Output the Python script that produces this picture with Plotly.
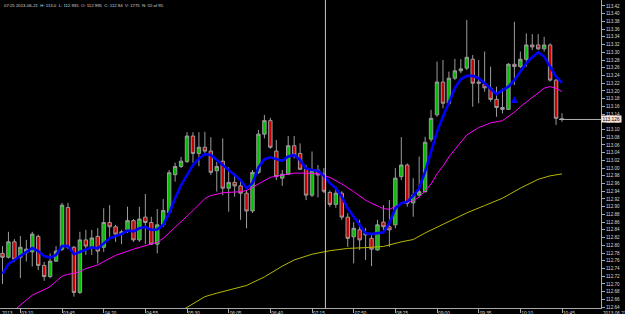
import plotly.graph_objects as go
import pandas as pd

# ---- candle data (EURJPY-like 5 min bars, 2013-06-21 02:55 .. 10:45) ----
opens = [112.779, 112.769, 112.809, 112.769, 112.781, 112.783, 112.823, 112.748, 112.719, 112.759,
         112.790, 112.898, 112.795, 112.678, 112.814, 112.795, 112.823, 112.795, 112.859, 112.848,
         112.829, 112.840, 112.864, 112.814, 112.873, 112.859, 112.803, 112.853, 112.885, 112.983,
         113.004, 113.017, 113.083, 113.038, 113.054, 113.044, 112.993, 113.018, 112.948, 112.963,
         112.954, 112.935, 112.889, 112.989, 113.088, 113.123, 113.044, 112.974, 112.984, 113.058,
         113.038, 112.997, 112.930, 112.995, 112.985, 112.937, 112.906, 112.935, 112.873, 112.822,
         112.840, 112.827, 112.818, 112.788, 112.860, 112.848, 112.853, 112.978, 113.008, 112.910,
         112.930, 112.939, 113.075, 113.138, 113.223, 113.168, 113.233, 113.252, 113.259, 113.282,
         113.223, 113.218, 113.207, 113.178, 113.157, 113.152, 113.269, 113.263, 113.282, 113.319,
         113.319, 113.309, 113.319, 113.228, 113.128]
highs = [112.798, 112.835, 112.816, 112.824, 112.814, 112.835, 112.828, 112.757, 112.779, 112.798,
         112.910, 112.910, 112.798, 112.835, 112.840, 112.840, 112.845, 112.896, 112.904, 112.853,
         112.840, 112.900, 112.868, 112.900, 112.933, 112.874, 112.894, 112.920, 112.995, 113.014,
         113.029, 113.093, 113.093, 113.093, 113.094, 113.080, 113.016, 113.077, 113.002, 112.987,
         112.969, 112.943, 112.995, 113.099, 113.138, 113.130, 113.073, 112.995, 113.083, 113.083,
         113.064, 113.008, 113.043, 113.008, 113.000, 112.942, 112.952, 112.940, 112.883, 112.860,
         112.866, 112.845, 112.831, 112.866, 112.904, 112.917, 113.000, 113.080, 113.012, 112.974,
         113.030, 113.081, 113.151, 113.276, 113.280, 113.250, 113.283, 113.282, 113.384, 113.293,
         113.280, 113.302, 113.263, 113.211, 113.207, 113.272, 113.379, 113.302, 113.349, 113.347,
         113.347, 113.340, 113.323, 113.230, 113.142]
lows = [112.700, 112.766, 112.757, 112.715, 112.758, 112.745, 112.736, 112.708, 112.715, 112.757,
        112.785, 112.790, 112.667, 112.674, 112.775, 112.775, 112.753, 112.783, 112.822, 112.809,
        112.803, 112.832, 112.809, 112.809, 112.803, 112.801, 112.779, 112.847, 112.881, 112.965,
        113.000, 113.013, 113.014, 113.005, 113.034, 112.982, 112.939, 112.930, 112.887, 112.926,
        112.866, 112.844, 112.884, 112.985, 113.077, 113.050, 112.969, 112.954, 112.982, 113.025,
        112.995, 112.917, 112.925, 112.924, 112.935, 112.900, 112.897, 112.866, 112.796, 112.753,
        112.788, 112.762, 112.746, 112.786, 112.831, 112.796, 112.844, 112.969, 112.900, 112.874,
        112.926, 112.936, 113.068, 113.133, 113.155, 113.163, 113.228, 113.246, 113.254, 113.159,
        113.168, 113.198, 113.172, 113.133, 113.142, 113.151, 113.215, 113.259, 113.263, 113.306,
        113.306, 113.302, 113.224, 113.112, 113.120]
closes = [112.769, 112.809, 112.764, 112.795, 112.790, 112.829, 112.748, 112.719, 112.759, 112.785,
          112.904, 112.795, 112.678, 112.814, 112.798, 112.819, 112.785, 112.859, 112.848, 112.829,
          112.835, 112.864, 112.814, 112.868, 112.859, 112.803, 112.853, 112.890, 112.988, 113.004,
          113.018, 113.083, 113.038, 113.054, 113.044, 112.989, 113.004, 112.948, 112.963, 112.954,
          112.935, 112.889, 112.989, 113.088, 113.123, 113.054, 112.978, 112.984, 113.058, 113.034,
          112.997, 112.930, 112.993, 112.982, 112.940, 112.906, 112.935, 112.873, 112.818, 112.844,
          112.814, 112.831, 112.790, 112.853, 112.848, 112.840, 112.974, 113.008, 112.909, 112.930,
          112.939, 113.067, 113.129, 113.223, 113.168, 113.233, 113.252, 113.257, 113.287, 113.220,
          113.220, 113.208, 113.178, 113.157, 113.152, 113.269, 113.263, 113.282, 113.319, 113.314,
          113.309, 113.319, 113.228, 113.129, 113.126]

# fast moving average (blue), one value per bar
ma_fast = [112.726, 112.752, 112.762, 112.772, 112.782, 112.793, 112.785, 112.772, 112.768, 112.775,
           112.798, 112.798, 112.777, 112.783, 112.788, 112.795, 112.792, 112.805, 112.818, 112.824,
           112.829, 112.838, 112.836, 112.844, 112.848, 112.840, 112.841, 112.853, 112.883, 112.922,
           112.956, 112.982, 113.008, 113.025, 113.036, 113.034, 113.021, 113.008, 112.993, 112.982,
           112.969, 112.948, 112.961, 113.002, 113.023, 113.028, 113.023, 113.019, 113.030, 113.034,
           113.021, 112.999, 112.995, 112.993, 112.980, 112.961, 112.948, 112.926, 112.896, 112.874,
           112.855, 112.831, 112.829, 112.831, 112.834, 112.857, 112.896, 112.909, 112.913, 112.928,
           112.948, 112.991, 113.042, 113.094, 113.133, 113.168, 113.207, 113.230, 113.239, 113.239,
           113.233, 113.220, 113.207, 113.192, 113.202, 113.211, 113.228, 113.250, 113.272, 113.287,
           113.300, 113.289, 113.263, 113.237, 113.221]

# medium moving average (magenta), read at these bars
ma_mid_bars = [2, 4, 5, 7, 8, 10, 11, 12, 13, 14, 16, 17, 19, 22, 24, 26, 27, 28, 30, 32,
               34, 35, 37, 40, 41, 42, 43, 45, 47, 49, 51, 53, 55, 57, 59, 61, 62, 64, 65, 67,
               69, 70, 71, 72, 73, 74, 75, 76, 77, 78, 80, 82, 84, 86, 87, 88, 89, 90, 91, 92, 93, 94]
ma_mid = [112.632, 112.658, 112.671, 112.685, 112.693, 112.720, 112.725, 112.727, 112.732, 112.740,
          112.749, 112.758, 112.774, 112.790, 112.799, 112.808, 112.818, 112.832, 112.860, 112.890,
          112.921, 112.929, 112.936, 112.939, 112.942, 112.951, 112.959, 112.976, 112.982, 112.987,
          112.987, 112.985, 112.976, 112.959, 112.939, 112.917, 112.909, 112.895, 112.893, 112.909,
          112.915, 112.925, 112.941, 112.959, 112.985, 113.005, 113.029, 113.049, 113.068, 113.086,
          113.105, 113.117, 113.123, 113.145, 113.159, 113.171, 113.183, 113.195, 113.207, 113.211,
          113.207, 113.198]

# slow moving average (olive), read at these bars
ma_slow_bars = [30, 31, 33, 34, 36, 38, 41, 44, 47, 49, 52, 55, 58, 61, 64, 67, 69, 71, 73, 75,
                78, 81, 84, 87, 90, 92, 94]
ma_slow = [112.630, 112.639, 112.658, 112.667, 112.676, 112.684, 112.696, 112.718, 112.746, 112.762,
           112.777, 112.786, 112.792, 112.794, 112.797, 112.809, 112.815, 112.832, 112.847, 112.863,
           112.884, 112.903, 112.922, 112.948, 112.971, 112.980, 112.985]

arrow_bar = [86]
arrow_price = [113.187]

time_labels = ["03:10", "03:45", "04:20", "04:55", "05:30", "06:05", "06:40",
               "07:15", "07:50", "08:25", "09:00", "09:35", "10:10", "10:45"]
cursor_time = "07:25"
header = "07:25 2013-06-21  H: 113.0  L: 112.935  O: 112.995  C: 112.94  V: 1775  N: 55 of 95"

# ---- derived ----
times = pd.date_range("2013-06-21 02:55", periods=len(opens), freq="5min")
hhmm = list(times.strftime("%H:%M"))
bars = list(range(len(opens)))
tick_idx = [hhmm.index(t) for t in time_labels]
cursor_idx = hhmm.index(cursor_time)

x_range = [-0.42, 100.55]
y_range = [112.6376, 113.4355]

TXT = "#d8d8d8"
AX = "#a8a8a8"
FONT = "Liberation Sans"

fig = go.Figure()
fig.add_trace(go.Candlestick(
    x=bars, open=opens, high=highs, low=lows, close=closes,
    increasing=dict(fillcolor="#00c000", line=dict(color="#9c9c9c", width=1)),
    decreasing=dict(fillcolor="#c80000", line=dict(color="#9c9c9c", width=1)),
    whiskerwidth=0, showlegend=False, hoverinfo="skip"))
fig.add_trace(go.Scatter(x=ma_slow_bars, y=ma_slow, mode="lines",
                         line=dict(color="#b8b800", width=1), hoverinfo="skip"))
fig.add_trace(go.Scatter(x=ma_mid_bars, y=ma_mid, mode="lines",
                         line=dict(color="#ff00ff", width=1), hoverinfo="skip"))
fig.add_trace(go.Scatter(x=bars, y=ma_fast, mode="lines",
                         line=dict(color="#0000ff", width=2.6), hoverinfo="skip"))
fig.add_trace(go.Scatter(x=arrow_bar, y=arrow_price, mode="markers",
                         marker=dict(symbol="arrow-up", size=7, color="#0000ff",
                                     line=dict(width=0)), hoverinfo="skip"))

# crosshair and last price line
fig.add_shape(type="line", xref="x", yref="paper", x0=cursor_idx + 0.25, x1=cursor_idx + 0.25,
              y0=0, y1=1, line=dict(color="#c8c8c8", width=1))
fig.add_shape(type="line", xref="x", yref="y", x0=bars[-1] - 0.5, x1=x_range[1],
              y0=closes[-1], y1=closes[-1], line=dict(color="#b0b0b0", width=1))

fig.add_annotation(xref="paper", yref="paper", x=0.003, y=0.997, xanchor="left", yanchor="top",
                   text=header, showarrow=False, font=dict(family=FONT, size=4.3, color=TXT))
fig.add_annotation(xref="paper", yref="y", x=1.0, y=closes[-1], xanchor="left", yanchor="middle",
                   text=f"{closes[-1]:.3f}", showarrow=False, bgcolor="#fbe3da", borderpad=0.6,
                   font=dict(family=FONT, size=4.8, color="#000000"))
fig.add_annotation(xref="paper", yref="paper", x=0.0, y=0, xanchor="left", yanchor="top", yshift=-1,
                   text="2013", showarrow=False, font=dict(family=FONT, size=4.7, color=TXT))
fig.add_annotation(xref="paper", yref="paper", x=1.0, y=0, xanchor="left", yanchor="top", yshift=-1,
                   text=times[-1].strftime("%Y.%m.%d"), showarrow=False,
                   font=dict(family=FONT, size=4.7, color=TXT))

fig.update_layout(
    template="none",
    width=625, height=314,
    margin=dict(l=0, r=24, t=0, b=6, pad=0),
    paper_bgcolor="#000000", plot_bgcolor="#000000",
    showlegend=False, boxgap=0.18,
    xaxis=dict(range=x_range, rangeslider=dict(visible=False), showgrid=False, zeroline=False,
               showline=True, linecolor=AX, linewidth=1, tickmode="array", tickvals=tick_idx,
               ticktext=time_labels, ticks="outside", ticklen=4, tickcolor=AX,
               ticklabelposition="outside right", automargin=False,
               tickfont=dict(family=FONT, size=4.7, color=TXT)),
    yaxis=dict(range=y_range, side="right", showgrid=False, zeroline=False,
               showline=True, mirror=True, linecolor=AX, linewidth=1,
               tick0=112.64, dtick=0.02, tickformat=".2f", ticks="outside", ticklen=3,
               tickcolor=AX, automargin=False,
               tickfont=dict(family=FONT, size=4.6, color=TXT)),
)

fig.write_html("out.html")
